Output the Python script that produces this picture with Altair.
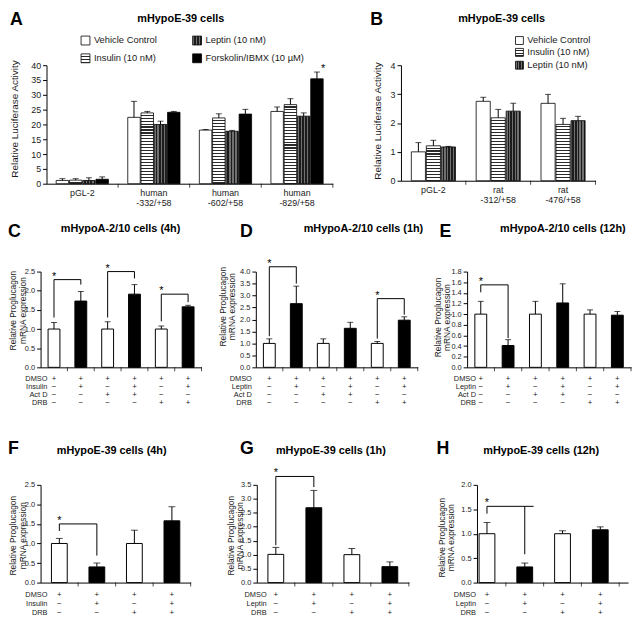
import altair as alt
import pandas as pd

FONT = "Liberation Sans"
INK = "#1b1b1b"
W_ALL, H_ALL = 632, 616

# ---------------- Panel A data ----------------
A_groups = ["pGL-2", "human|-332/+58", "human|-602/+58", "human|-829/+58"]
A_treats = ["Vehicle Control", "Insulin (10 nM)", "Leptin (10 nM)", "Forskolin/IBMX (10 µM)"]
A_vehicle = [1.1, 22.4, 18.1, 24.4]
A_vehicle_err = [0.6, 5.4, 0.2, 1.5]
A_insulin = [1.2, 23.9, 22.2, 26.7]
A_insulin_err = [0.5, 0.5, 1.4, 2.0]
A_leptin = [1.1, 20.0, 17.7, 22.8]
A_leptin_err = [0.9, 1.1, 0.3, 1.1]
A_forskolin = [1.5, 24.1, 23.5, 35.4]
A_forskolin_err = [0.8, 0.3, 1.6, 2.3]
A_ticks = [0, 5, 10, 15, 20, 25, 30, 35, 40]

# ---------------- Panel B data ----------------
B_groups = ["pGL-2", "rat|-312/+58", "rat|-476/+58"]
B_treats = ["Vehicle Control", "Insulin (10 nM)", "Leptin (10 nM)"]
B_vehicle = [1.0, 2.75, 2.68]
B_vehicle_err = [0.32, 0.14, 0.31]
B_insulin = [1.21, 2.18, 1.95]
B_insulin_err = [0.19, 0.29, 0.21]
B_leptin = [1.17, 2.41, 2.08]
B_leptin_err = [0.02, 0.27, 0.15]
B_ticks = [0, 1, 2, 3, 4]

# ---------------- Panel C ----------------
C_values = [1.0, 1.73, 1.0, 1.91, 1.0, 1.58]
C_errors = [0.17, 0.25, 0.19, 0.25, 0.08, 0.04]
C_ticks = [0.0, 0.5, 1.0, 1.5, 2.0, 2.5]
C_rows = [("DMSO", ["+", "+", "+", "+", "+", "+"]),
          ("Insulin", ["−", "+", "−", "+", "−", "+"]),
          ("Act D", ["−", "−", "+", "+", "−", "−"]),
          ("DRB", ["−", "−", "−", "−", "+", "+"])]
C_br_left = [0, 2, 4]
C_br_right = [1, 3, 5]
C_br_y = [2.29, 2.5, 1.91]
C_br_leg1 = [1.3, 1.3, 1.2]
C_br_leg2 = [2.16, 2.32, 1.7]

# ---------------- Panel D ----------------
D_values = [1.0, 2.66, 1.0, 1.63, 1.0, 1.97]
D_errors = [0.19, 0.73, 0.19, 0.25, 0.08, 0.14]
D_ticks = [0.0, 0.5, 1.0, 1.5, 2.0, 2.5, 3.0, 3.5, 4.0]
D_rows = [("DMSO", ["+", "+", "+", "+", "+", "+"]),
          ("Leptin", ["−", "+", "−", "+", "−", "+"]),
          ("Act D", ["−", "−", "+", "+", "−", "−"]),
          ("DRB", ["−", "−", "−", "−", "+", "+"])]
D_br_left = [0, 4]
D_br_right = [1, 5]
D_br_y = [4.2, 2.87]
D_br_leg1 = [1.3, 1.2]
D_br_leg2 = [3.5, 2.2]

# ---------------- Panel E ----------------
E_values = [1.0, 0.41, 1.0, 1.21, 1.0, 0.98]
E_errors = [0.24, 0.11, 0.24, 0.36, 0.08, 0.07]
E_ticks = [0.0, 0.2, 0.4, 0.6, 0.8, 1.0, 1.2, 1.4, 1.6, 1.8]
E_rows = [("DMSO", ["+", "+", "+", "+", "+", "+"]),
          ("Leptin", ["−", "+", "−", "+", "−", "+"]),
          ("Act D", ["−", "−", "+", "+", "−", "−"]),
          ("DRB", ["−", "−", "−", "−", "+", "+"])]
E_br_left = [0]
E_br_right = [1]
E_br_y = [1.55]
E_br_leg1 = [1.41]
E_br_leg2 = [0.55]

# ---------------- Panel F ----------------
F_values = [1.0, 0.4, 1.0, 1.58]
F_errors = [0.13, 0.1, 0.34, 0.36]
F_ticks = [0.0, 0.5, 1.0, 1.5, 2.0, 2.5]
F_rows = [("DMSO", ["+", "+", "+", "+"]),
          ("Insulin", ["−", "+", "−", "+"]),
          ("DRB", ["−", "−", "+", "+"])]
F_br_left = [0]
F_br_right = [1]
F_br_y = [1.5]
F_br_leg1 = [1.32]
F_br_leg2 = [0.69]

# ---------------- Panel G ----------------
G_values = [1.01, 2.68, 1.0, 0.57]
G_errors = [0.25, 0.62, 0.22, 0.17]
G_ticks = [0.0, 0.5, 1.0, 1.5, 2.0, 2.5, 3.0, 3.5]
G_rows = [("DMSO", ["+", "+", "+", "+"]),
          ("Leptin", ["−", "+", "−", "+"]),
          ("DRB", ["−", "−", "+", "+"])]
G_br_left = [0]
G_br_right = [1]
G_br_y = [3.8]
G_br_leg1 = [1.34]
G_br_leg2 = [3.42]

# ---------------- Panel H ----------------
H_values = [1.0, 0.32, 1.0, 1.08]
H_errors = [0.23, 0.08, 0.06, 0.06]
H_ticks = [0.0, 0.5, 1.0, 1.5, 2.0]
H_rows = [("DMSO", ["+", "+", "+", "+"]),
          ("Leptin", ["−", "+", "−", "+"]),
          ("DRB", ["−", "−", "+", "+"])]
H_br_left = [0]
H_br_right = [1]
H_br_y = [1.56]
H_br_leg1 = [1.41]
H_br_leg2 = [0.58]

ONE = pd.DataFrame({"t": [""]})


def stripe_fill(n, base, line, frac, vertical_lines):
    stops = []
    for k in range(n):
        a, b, c = k / n, (k + frac) / n, (k + 1) / n
        stops += [alt.GradientStop(color=base, offset=round(a, 4)),
                  alt.GradientStop(color=base, offset=round(b, 4)),
                  alt.GradientStop(color=line, offset=round(b, 4)),
                  alt.GradientStop(color=line, offset=round(c, 4))]
    if vertical_lines:
        return alt.LinearGradient(gradient="linear", stops=stops, x1=0, y1=0, x2=1, y2=0)
    return alt.LinearGradient(gradient="linear", stops=stops, x1=0, y1=0, x2=0, y2=1)


def kind_fill(kind, n):
    if kind == "white":
        return "white"
    if kind == "black":
        return "black"
    if kind == "vstripe":
        return stripe_fill(n, "#707070", "#1c1c1c", 0.5, True)
    return stripe_fill(n, "white", "#2a2a2a", 0.6, False)


def txt(s, x, y, size, bold=False, align="left", baseline="middle", color="black"):
    kw = dict(align=align, baseline=baseline, fontSize=size, font=FONT, color=color)
    if bold:
        kw["fontWeight"] = "bold"
    return alt.Chart(pd.DataFrame({"t": [s]})).mark_text(**kw).encode(
        x=alt.value(x), y=alt.value(y), text="t:N")


def yaxis(ticks, fmt, title, axis_x, tx, ty, tsize, lsize, lh=None):
    kw = dict(orient="left", offset=-axis_x, values=ticks, format=fmt, tickSize=4,
              tickColor="black", domainColor="black", labelFontSize=lsize, labelColor=INK,
              labelFont=FONT, labelPadding=2, grid=False,
              title=title, titleFont=FONT, titleFontSize=tsize, titleFontWeight="normal",
              titleColor=INK, titleX=tx, titleY=ty, titleAngle=270, titleAlign="center",
              titleBaseline="middle")
    if lh:
        kw["titleLineHeight"] = lh
    return alt.Axis(**kw)


def xaxis(axis_y, labels):
    kw = dict(orient="bottom", offset=axis_y - H_ALL, title=None, ticks=False,
              domainColor="black", grid=False)
    if labels:
        kw.update(labelExpr="split(datum.label, '|')", labelFontSize=9, labelColor=INK,
                  labelFont=FONT, labelPadding=5, labelLineHeight=10, labelAngle=0)
    else:
        kw["labels"] = False
    return alt.Axis(**kw)


def grouped_panel(groups, treats, series, kinds, yticks, xr, yr, pin,
                  ytitle, ytx, yty, star, legend, bs, letter, lpos, title, tpos):
    rows = []
    for t, (vals, errs) in zip(treats, series):
        for g, v, e in zip(groups, vals, errs):
            rows.append({"group": g, "treat": t, "val": v, "top": round(v + e, 3)})
    df = pd.DataFrame(rows)
    ymax = yticks[-1]
    xsc = alt.Scale(domain=groups, range=xr, paddingInner=pin, paddingOuter=pin / 2)
    osc = alt.Scale(domain=treats, paddingInner=0.06, paddingOuter=0)
    ysc = alt.Scale(domain=[0, ymax], range=yr, nice=False)
    X = alt.X("group:N", scale=xsc, axis=None)
    XO = alt.XOffset("treat:N", scale=osc)
    step = (xr[1] - xr[0]) / len(groups)
    barw = step * (1 - pin) / len(treats) * 0.94
    nv = max(2, round(barw / 3))
    ph = yr[0] - yr[1]
    layers = []
    first = True
    for t, kind in zip(treats, kinds):
        sub = df[df.treat == t]
        if kind == "hstripe":
            for g in groups:
                one = sub[sub.group == g]
                n = max(1, round(float(one.val.iloc[0]) / ymax * ph / 3))
                layers.append(alt.Chart(one).mark_bar(
                    fill=kind_fill(kind, n), stroke="black", strokeWidth=0.8).encode(
                    x=X, xOffset=XO, y=alt.Y("val:Q", scale=ysc, axis=None)))
        else:
            enc = dict(x=X, xOffset=XO, y=alt.Y("val:Q", scale=ysc, axis=None))
            if first:
                enc = dict(x=alt.X("group:N", scale=xsc, axis=xaxis(yr[0], True)), xOffset=XO,
                           y=alt.Y("val:Q", scale=ysc,
                                   axis=yaxis(yticks, "d", ytitle, xr[0], ytx, yty, 10, 9)))
                first = False
            layers.append(alt.Chart(sub).mark_bar(
                fill=kind_fill(kind, nv), stroke="black", strokeWidth=0.8).encode(**enc))
    layers.append(alt.Chart(df).mark_rule(color="black", strokeWidth=1).encode(
        x=X, xOffset=XO, y=alt.Y("val:Q", scale=ysc, axis=None), y2=alt.Y2("top")))
    layers.append(alt.Chart(df).mark_tick(orient="horizontal", size=6, thickness=1,
                                          color="black").encode(
        x=X, xOffset=XO, y=alt.Y("top:Q", scale=ysc, axis=None)))
    half_gap = step * pin / 2
    layers.append(alt.Chart(pd.DataFrame({"group": groups})).mark_tick(
        orient="vertical", size=4, thickness=1, color="black", xOffset=half_gap).encode(
        x=alt.X("group:N", scale=xsc, axis=None, bandPosition=1), y=alt.value(yr[0] + 2)))
    if star:
        s = df[(df.group == star[0]) & (df.treat == star[1])]
        layers.append(alt.Chart(s).mark_text(text="*", fontSize=11, font=FONT,
                                             baseline="alphabetic", color="black").encode(
            x=X, xOffset=XO, y=alt.Y("top:Q", scale=ysc, axis=None)))
    for label, kind, bx, by in legend:
        layers.append(alt.Chart(ONE).mark_rect(
            fill=kind_fill(kind, 3), stroke="black", strokeWidth=0.8).encode(
            x=alt.value(bx), x2=alt.value(bx + bs), y=alt.value(by - bs / 2),
            y2=alt.value(by + bs / 2)))
        layers.append(txt(label, bx + bs + 4, by, 9.5, color=INK))
    layers.append(txt(letter, lpos[0], lpos[1], 18, bold=True))
    layers.append(txt(title, tpos[0], tpos[1], 11, bold=True, align="center"))
    return layers


def small_panel(vals, errs, rows, trt_row, yticks, xr, yr, bar_w, cap, xo,
                brl, brr, bry, brl1, brl2, letter, lpos, title, tpos, ytx, yty,
                rowlab_x, row_ys):
    n = len(vals)
    conds = [f"c{i}" for i in range(n)]
    trt = rows[trt_row][1]
    df = pd.DataFrame({"cond": conds, "val": vals,
                       "top": [round(v + e, 3) for v, e in zip(vals, errs)], "trt": trt})
    xsc = alt.Scale(domain=conds, range=xr, paddingInner=0, paddingOuter=0)
    ysc = alt.Scale(domain=[0, yticks[-1]], range=yr, nice=False)
    X = alt.X("cond:N", scale=xsc, axis=None)
    layers = []
    layers.append(alt.Chart(df[df.trt == "−"]).mark_bar(
        width=bar_w, fill="white", stroke="black", strokeWidth=1, xOffset=xo).encode(
        x=alt.X("cond:N", scale=xsc, axis=xaxis(yr[0], False)),
        y=alt.Y("val:Q", scale=ysc,
                axis=yaxis(yticks, ".1f", ["Relative Proglucagon", "mRNA expression"],
                           xr[0], ytx, yty, 8.5, 7.5, lh=9.5))))
    layers.append(alt.Chart(df[df.trt == "+"]).mark_bar(
        width=bar_w, fill="black", stroke="black", strokeWidth=1, xOffset=xo).encode(
        x=X, y=alt.Y("val:Q", scale=ysc, axis=None)))
    layers.append(alt.Chart(df).mark_rule(color="black", strokeWidth=1, xOffset=xo).encode(
        x=X, y=alt.Y("val:Q", scale=ysc, axis=None), y2=alt.Y2("top")))
    layers.append(alt.Chart(df).mark_tick(orient="horizontal", size=cap, thickness=1,
                                          color="black", xOffset=xo).encode(
        x=X, y=alt.Y("top:Q", scale=ysc, axis=None)))
    layers.append(alt.Chart(df).mark_tick(orient="vertical", size=4, thickness=1,
                                          color="black", xOffset=xo).encode(
        x=alt.X("cond:N", scale=xsc, axis=None, bandPosition=1), y=alt.value(yr[0] + 2)))
    dfb = pd.DataFrame({"c1": [conds[i] for i in brl], "c2": [conds[i] for i in brr],
                        "yb": bry, "l1": brl1, "l2": brl2})
    layers.append(alt.Chart(dfb).mark_rule(color="black", strokeWidth=1, xOffset=xo).encode(
        x=alt.X("c1:N", scale=xsc, axis=None), x2=alt.X2("c2"),
        y=alt.Y("yb:Q", scale=ysc, axis=None)))
    layers.append(alt.Chart(dfb).mark_rule(color="black", strokeWidth=1, xOffset=xo).encode(
        x=alt.X("c1:N", scale=xsc, axis=None),
        y=alt.Y("l1:Q", scale=ysc, axis=None), y2=alt.Y2("yb")))
    layers.append(alt.Chart(dfb).mark_rule(color="black", strokeWidth=1, xOffset=xo).encode(
        x=alt.X("c2:N", scale=xsc, axis=None),
        y=alt.Y("l2:Q", scale=ysc, axis=None), y2=alt.Y2("yb")))
    layers.append(alt.Chart(dfb).mark_text(text="*", fontSize=11, font=FONT,
                                           baseline="alphabetic", color="black",
                                           xOffset=xo).encode(
        x=alt.X("c1:N", scale=xsc, axis=None, bandPosition=1),
        y=alt.Y("yb:Q", scale=ysc, axis=None)))
    for (name, syms), ry in zip(rows, row_ys):
        layers.append(alt.Chart(pd.DataFrame({"cond": conds, "s": syms})).mark_text(
            fontSize=8, font=FONT, color=INK, baseline="middle", xOffset=xo).encode(
            x=X, y=alt.value(ry), text="s:N"))
        layers.append(txt(name, rowlab_x, ry, 7.5, align="right", color=INK))
    layers.append(txt(letter, lpos[0], lpos[1], 18, bold=True))
    layers.append(txt(title, tpos[0], tpos[1], 11, bold=True, align="center"))
    return layers


ROW2 = [372, 380, 388, 396]
ROW3 = [591, 600, 609]
YR2 = [360, 263]
YR3 = [578, 479]

layers = []
layers += grouped_panel(
    A_groups, A_treats,
    [(A_vehicle, A_vehicle_err), (A_insulin, A_insulin_err),
     (A_leptin, A_leptin_err), (A_forskolin, A_forskolin_err)],
    ["white", "hstripe", "vstripe", "black"], A_ticks, [39, 329], [174, 54], 0.27,
    "Relative Luciferase Activity", -32, 108,
    ("human|-829/+58", "Forskolin/IBMX (10 µM)"),
    [("Vehicle Control", "white", 74, 29), ("Insulin (10 nM)", "hstripe", 74, 47),
     ("Leptin (10 nM)", "vstripe", 187, 29), ("Forskolin/IBMX (10 µM)", "black", 187, 47)],
    9, "A", (2, 8), "mHypoE-39 cells", (175, 7))

layers += grouped_panel(
    B_groups, B_treats,
    [(B_vehicle, B_vehicle_err), (B_insulin, B_insulin_err), (B_leptin, B_leptin_err)],
    ["white", "hstripe", "vstripe"], B_ticks, [398, 595], [171, 54], 0.32,
    "Relative Luciferase Activity", -24, 110, None,
    [("Vehicle Control", "white", 514, 29), ("Insulin (10 nM)", "hstripe", 514, 41),
     ("Leptin (10 nM)", "vstripe", 514, 54)],
    8, "B", (367, 8), "mHypoE-39 cells", (500, 7))

layers += small_panel(C_values, C_errors, C_rows, 1, C_ticks, [33, 196], YR2, 12, 6, 0,
                      C_br_left, C_br_right, C_br_y, C_br_leg1, C_br_leg2,
                      "C", (0, 223), "mHypoA-2/10 cells (4h)", (114, 220), -28, 302,
                      40, ROW2)
layers += small_panel(D_values, D_errors, D_rows, 1, D_ticks, [251, 415], YR2, 12, 6, 0,
                      D_br_left, D_br_right, D_br_y, D_br_leg1, D_br_leg2,
                      "D", (235, 223), "mHypoA-2/10 cells (1h)", (360, 220), -34, 298,
                      247, ROW2)
layers += small_panel(E_values, E_errors, E_rows, 1, E_ticks, [465, 631], YR2, 12, 6, 0,
                      E_br_left, E_br_right, E_br_y, E_br_leg1, E_br_leg2,
                      "E", (437, 223), "mHypoA-2/10 cells (12h)", (562, 220), -30, 309,
                      474, ROW2)
layers += small_panel(F_values, F_errors, F_rows, 1, F_ticks, [33, 185], YR3, 16, 7, 0,
                      F_br_left, F_br_right, F_br_y, F_br_leg1, F_br_leg2,
                      "F", (0, 443), "mHypoE-39 cells (4h)", (105, 445), -28, 530,
                      40, ROW3)
layers += small_panel(G_values, G_errors, G_rows, 1, G_ticks, [252, 406], YR3, 16, 7, 0,
                      G_br_left, G_br_right, G_br_y, G_br_leg1, G_br_leg2,
                      "G", (235, 443), "mHypoE-39 cells (1h)", (327, 445), -27, 530,
                      262, ROW3)
layers += small_panel(H_values, H_errors, H_rows, 1, H_ticks, [475, 628], YR3, 16, 7, -9,
                      H_br_left, H_br_right, H_br_y, H_br_leg1, H_br_leg2,
                      "H", (434, 443), "mHypoE-39 cells (12h)", (540, 445), -36, 532,
                      474, ROW3)

chart = alt.layer(*layers).resolve_scale(
    x="independent", y="independent", xOffset="independent"
).resolve_axis(x="independent", y="independent").properties(
    width=W_ALL, height=H_ALL, padding=0, autosize=alt.AutoSizeParams(type="none")
).configure(font=FONT).configure_view(stroke=None).configure_axis(domainWidth=1, tickWidth=1)

chart.save("out.html", embed_options={"renderer": "svg", "actions": False})
